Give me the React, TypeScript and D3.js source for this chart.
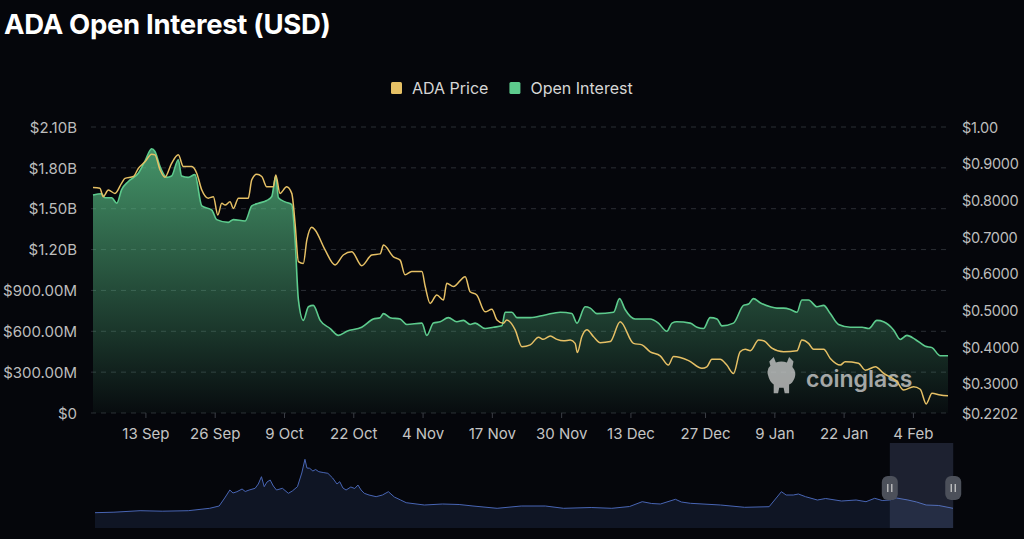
import { useEffect, useRef } from "react";
import * as d3 from "d3";

const WIDTH = 1024;
const HEIGHT = 539;
const PLOT = { left: 93, right: 948, top: 127, bottom: 413 };
const NAV = { left: 95, right: 953, top: 443, bottom: 528 };
const BG = "#05060b";
const FONT = "Inter, 'Noto Sans', sans-serif";
const PRICE_COLOR = "#e6c065";
const OI_COLOR = "#5dcb8d";

// Open interest, billions of USD
const OPEN_INTEREST: [string, number][] = [
  ["2025-09-03T04", 1.6], ["2025-09-04T19", 1.61], ["2025-09-05T10", 1.58], ["2025-09-06T16", 1.58],
  ["2025-09-07T15", 1.54], ["2025-09-08T13", 1.64], ["2025-09-09T19", 1.7], ["2025-09-11T16", 1.76],
  ["2025-09-12T22", 1.85], ["2025-09-14T04", 1.94], ["2025-09-14T19", 1.92], ["2025-09-15T18", 1.81],
  ["2025-09-17T00", 1.73], ["2025-09-17T22", 1.74], ["2025-09-19T04", 1.86], ["2025-09-19T19", 1.74],
  ["2025-09-21T01", 1.73], ["2025-09-22T07", 1.75], ["2025-09-23T14", 1.52], ["2025-09-25T11", 1.49],
  ["2025-09-26T09", 1.42], ["2025-09-28T13", 1.4], ["2025-09-29T12", 1.42], ["2025-10-01T17", 1.41],
  ["2025-10-02T23", 1.52], ["2025-10-04T05", 1.54], ["2025-10-05T18", 1.56], ["2025-10-06T17", 1.59],
  ["2025-10-07T11", 1.74], ["2025-10-07T23", 1.58], ["2025-10-09T05", 1.55], ["2025-10-10T11", 1.53],
  ["2025-10-11T02", 1.27], ["2025-10-11T17", 0.83], ["2025-10-12T15", 0.68], ["2025-10-13T14", 0.78],
  ["2025-10-14T12", 0.79], ["2025-10-15T19", 0.68], ["2025-10-17T16", 0.62], ["2025-10-19T05", 0.57],
  ["2025-10-20T19", 0.6], ["2025-10-23T14", 0.63], ["2025-10-25T18", 0.69], ["2025-10-27T01", 0.7],
  ["2025-10-27T16", 0.73], ["2025-10-28T22", 0.7], ["2025-10-30T19", 0.69], ["2025-11-01T01", 0.65],
  ["2025-11-03T21", 0.66], ["2025-11-04T19", 0.57], ["2025-11-06T01", 0.66], ["2025-11-07T07", 0.67],
  ["2025-11-08T20", 0.7], ["2025-11-10T10", 0.67], ["2025-11-11T16", 0.68], ["2025-11-12T22", 0.65],
  ["2025-11-13T21", 0.66], ["2025-11-15T18", 0.62], ["2025-11-17T07", 0.63], ["2025-11-18T21", 0.64],
  ["2025-11-19T12", 0.74], ["2025-11-20T18", 0.74], ["2025-11-21T17", 0.7], ["2025-11-24T05", 0.7],
  ["2025-11-27T00", 0.72], ["2025-11-29T20", 0.74], ["2025-12-02T00", 0.73], ["2025-12-02T23", 0.66],
  ["2025-12-04T12", 0.78], ["2025-12-05T11", 0.77], ["2025-12-06T17", 0.73], ["2025-12-09T20", 0.74],
  ["2025-12-10T23", 0.84], ["2025-12-12T00", 0.76], ["2025-12-13T21", 0.69], ["2025-12-16T17", 0.69],
  ["2025-12-18T06", 0.66], ["2025-12-19T20", 0.6], ["2025-12-20T19", 0.66], ["2025-12-21T17", 0.67],
  ["2025-12-24T05", 0.66], ["2025-12-25T12", 0.63], ["2025-12-26T17", 0.62], ["2025-12-27T23", 0.7],
  ["2025-12-29T06", 0.69], ["2025-12-30T04", 0.64], ["2026-01-01T08", 0.66], ["2026-01-03T05", 0.79],
  ["2026-01-04T04", 0.8], ["2026-01-05T02", 0.84], ["2026-01-06T08", 0.81], ["2026-01-08T06", 0.78],
  ["2026-01-09T12", 0.77], ["2026-01-10T18", 0.77], ["2026-01-12T00", 0.76], ["2026-01-13T06", 0.74],
  ["2026-01-14T04", 0.83], ["2026-01-15T10", 0.83], ["2026-01-17T00", 0.78], ["2026-01-18T06", 0.79],
  ["2026-01-19T12", 0.73], ["2026-01-21T01", 0.65], ["2026-01-23T06", 0.63], ["2026-01-25T11", 0.63],
  ["2026-01-26T17", 0.62], ["2026-01-28T06", 0.68], ["2026-01-29T12", 0.67], ["2026-01-31T09", 0.61],
  ["2026-02-01T15", 0.54], ["2026-02-02T21", 0.57], ["2026-02-04T11", 0.54], ["2026-02-06T08", 0.49],
  ["2026-02-07T14", 0.48], ["2026-02-09T03", 0.42], ["2026-02-10T14", 0.42],
];

// ADA price, USD
const ADA_PRICE: [string, number][] = [
  ["2025-09-03T04", 0.835], ["2025-09-04T11", 0.833], ["2025-09-05T02", 0.81], ["2025-09-06T01", 0.828],
  ["2025-09-07T07", 0.819], ["2025-09-08T13", 0.847], ["2025-09-09T04", 0.86], ["2025-09-10T18", 0.865],
  ["2025-09-11T16", 0.887], ["2025-09-12T22", 0.905], ["2025-09-14T04", 0.926], ["2025-09-14T19", 0.924],
  ["2025-09-15T18", 0.883], ["2025-09-16T16", 0.863], ["2025-09-17T22", 0.901], ["2025-09-19T04", 0.924],
  ["2025-09-20T03", 0.892], ["2025-09-21T17", 0.892], ["2025-09-22T15", 0.874], ["2025-09-23T14", 0.828],
  ["2025-09-24T19", 0.806], ["2025-09-25T18", 0.81], ["2025-09-26T14", 0.76], ["2025-09-27T08", 0.792],
  ["2025-09-27T23", 0.787], ["2025-09-28T21", 0.796], ["2025-09-29T12", 0.778], ["2025-09-30T11", 0.806],
  ["2025-10-02T07", 0.806], ["2025-10-02T23", 0.856], ["2025-10-03T21", 0.871], ["2025-10-04T20", 0.865],
  ["2025-10-05T18", 0.837], ["2025-10-07T00", 0.837], ["2025-10-07T11", 0.869], ["2025-10-08T06", 0.819],
  ["2025-10-09T12", 0.837], ["2025-10-10T11", 0.819], ["2025-10-11T02", 0.737], ["2025-10-11T17", 0.633],
  ["2025-10-12T15", 0.628], ["2025-10-13T07", 0.692], ["2025-10-14T05", 0.727], ["2025-10-14T20", 0.719],
  ["2025-10-16T17", 0.665], ["2025-10-18T14", 0.624], ["2025-10-20T03", 0.651], ["2025-10-21T17", 0.66],
  ["2025-10-23T14", 0.622], ["2025-10-25T11", 0.651], ["2025-10-27T01", 0.654], ["2025-10-27T16", 0.678],
  ["2025-10-29T13", 0.646], ["2025-10-30T19", 0.637], ["2025-10-31T17", 0.597], ["2025-11-01T23", 0.606],
  ["2025-11-03T21", 0.606], ["2025-11-04T12", 0.565], ["2025-11-05T10", 0.519], ["2025-11-06T16", 0.542],
  ["2025-11-07T22", 0.528], ["2025-11-08T13", 0.574], ["2025-11-09T19", 0.565], ["2025-11-12T00", 0.592],
  ["2025-11-12T22", 0.551], ["2025-11-14T04", 0.542], ["2025-11-15T18", 0.496], ["2025-11-17T00", 0.503],
  ["2025-11-17T23", 0.474], ["2025-11-19T04", 0.465], ["2025-11-19T19", 0.474], ["2025-11-21T09", 0.447],
  ["2025-11-22T15", 0.401], ["2025-11-24T05", 0.406], ["2025-11-25T18", 0.427], ["2025-11-26T16", 0.421],
  ["2025-11-27T23", 0.43], ["2025-11-29T05", 0.421], ["2025-11-30T11", 0.417], ["2025-12-01T17", 0.419],
  ["2025-12-02T15", 0.41], ["2025-12-03T01", 0.385], ["2025-12-03T21", 0.428], ["2025-12-04T20", 0.447],
  ["2025-12-06T02", 0.428], ["2025-12-07T08", 0.412], ["2025-12-09T05", 0.415], ["2025-12-11T02", 0.469],
  ["2025-12-13T14", 0.41], ["2025-12-15T04", 0.406], ["2025-12-16T17", 0.387], ["2025-12-18T14", 0.376],
  ["2025-12-20T03", 0.351], ["2025-12-21T02", 0.374], ["2025-12-23T22", 0.363], ["2025-12-26T10", 0.342],
  ["2025-12-27T08", 0.346], ["2025-12-28T07", 0.367], ["2025-12-29T20", 0.367], ["2025-12-31T02", 0.351],
  ["2026-01-01T08", 0.328], ["2026-01-02T14", 0.387], ["2026-01-03T13", 0.394], ["2026-01-04T12", 0.39],
  ["2026-01-06T01", 0.419], ["2026-01-07T00", 0.417], ["2026-01-08T13", 0.397], ["2026-01-10T18", 0.387],
  ["2026-01-13T06", 0.39], ["2026-01-14T04", 0.419], ["2026-01-15T10", 0.41], ["2026-01-16T09", 0.394],
  ["2026-01-18T06", 0.394], ["2026-01-19T12", 0.369], ["2026-01-21T09", 0.351], ["2026-01-22T07", 0.36],
  ["2026-01-24T19", 0.356], ["2026-01-26T02", 0.337], ["2026-01-27T23", 0.346], ["2026-01-29T12", 0.328],
  ["2026-02-01T00", 0.306], ["2026-02-02T06", 0.283], ["2026-02-04T03", 0.292], ["2026-02-05T09", 0.285],
  ["2026-02-06T12", 0.245], ["2026-02-07T14", 0.274], ["2026-02-09T03", 0.269], ["2026-02-10T14", 0.267],
];

// Navigator: full-history open interest (relative units)
const NAV_HISTORY: [string, number][] = [
  ["2020-03-03", 15.3], ["2020-04-20", 15.8], ["2020-06-25", 17.3], ["2020-08-20", 16.8], ["2020-10-25", 17.3],
  ["2020-12-18", 19.7], ["2021-01-11", 22], ["2021-01-25", 30], ["2021-02-07", 38], ["2021-02-15", 35],
  ["2021-02-25", 36.3], ["2021-03-10", 39], ["2021-03-18", 36.5], ["2021-03-28", 38], ["2021-04-12", 39.7],
  ["2021-04-20", 44], ["2021-04-28", 51.3], ["2021-05-05", 41.3], ["2021-05-12", 46], ["2021-05-20", 48],
  ["2021-05-28", 42], ["2021-06-05", 38], ["2021-06-20", 39.7], ["2021-07-05", 34.7], ["2021-07-15", 37],
  ["2021-07-28", 41.3], ["2021-08-08", 55], ["2021-08-16", 68.7], ["2021-08-21", 60], ["2021-08-28", 59.7],
  ["2021-09-05", 57], ["2021-09-12", 58.5], ["2021-09-20", 56.3], ["2021-10-01", 55.5], ["2021-10-13", 54.7],
  ["2021-10-25", 50], ["2021-11-05", 44], ["2021-11-12", 46.3], ["2021-11-20", 40], ["2021-11-28", 38],
  ["2021-12-10", 41], ["2021-12-20", 39.5], ["2021-12-28", 43], ["2022-01-05", 38], ["2022-01-13", 34.7],
  ["2022-01-25", 33], ["2022-02-12", 31.3], ["2022-02-28", 33], ["2022-03-15", 36.3], ["2022-03-30", 31],
  ["2022-04-15", 28], ["2022-04-29", 25.3], ["2022-06-14", 23], ["2022-07-30", 24], ["2022-09-10", 23.5],
  ["2022-10-15", 22], ["2022-12-15", 19.7], ["2023-02-14", 22], ["2023-04-16", 22], ["2023-06-01", 19.7],
  ["2023-08-10", 20.5], ["2023-10-01", 19.7], ["2023-11-15", 21.5], ["2023-12-17", 26.3], ["2024-01-10", 24.5],
  ["2024-02-01", 24], ["2024-03-10", 28.7], ["2024-03-25", 26], ["2024-04-17", 24.7], ["2024-07-02", 23],
  ["2024-09-01", 20.7], ["2024-11-02", 21.3], ["2024-11-20", 30], ["2024-12-03", 36.3], ["2024-12-15", 33],
  ["2025-01-02", 33], ["2025-01-15", 34], ["2025-02-02", 31.3], ["2025-03-04", 28], ["2025-03-25", 29.5],
  ["2025-05-04", 27], ["2025-06-10", 28], ["2025-07-05", 26.3], ["2025-07-27", 29.7], ["2025-08-15", 27.5],
  ["2025-09-03", 28], ["2025-09-20", 30], ["2025-10-19", 28], ["2025-11-10", 26], ["2025-12-04", 23],
  ["2026-01-05", 22.5], ["2026-02-10", 19.7],
];

const X_TICKS = [
  "2025-09-13", "2025-09-26", "2025-10-09", "2025-10-22", "2025-11-04", "2025-11-17",
  "2025-11-30", "2025-12-13", "2025-12-27", "2026-01-09", "2026-01-22", "2026-02-04",
];
const OI_TICKS = [0, 0.3, 0.6, 0.9, 1.2, 1.5, 1.8, 2.1];
const OI_TICK_LABELS = ["$0", "$300.00M", "$600.00M", "$900.00M", "$1.20B", "$1.50B", "$1.80B", "$2.10B"];
const PRICE_TICKS = [0.2202, 0.3, 0.4, 0.5, 0.6, 0.7, 0.8, 0.9, 1.0];
const PRICE_TICK_LABELS = ["$0.2202", "$0.3000", "$0.4000", "$0.5000", "$0.6000", "$0.7000", "$0.8000", "$0.9000", "$1.00"];
const LEGEND = [
  { label: "ADA Price", color: PRICE_COLOR },
  { label: "Open Interest", color: OI_COLOR },
];

const parseHour = d3.timeParse("%Y-%m-%dT%H");
const parseDay = d3.timeParse("%Y-%m-%d");

export default function App() {
  const svgRef = useRef<SVGSVGElement>(null);

  useEffect(() => {
    if (!svgRef.current) return;
    const svg = d3.select(svgRef.current);
    svg.selectAll("*").remove();

    const oi = OPEN_INTEREST.map(([d, v]) => ({ date: parseHour(d) as Date, v }));
    const price = ADA_PRICE.map(([d, v]) => ({ date: parseHour(d) as Date, v }));
    const nav = NAV_HISTORY.map(([d, v]) => ({ date: parseDay(d) as Date, v }));

    const x = d3
      .scaleTime()
      .domain([oi[0].date, oi[oi.length - 1].date])
      .range([PLOT.left, PLOT.right]);
    const yOi = d3.scaleLinear().domain([0, 2.1]).range([PLOT.bottom, PLOT.top]);
    const yPrice = d3.scaleLinear().domain([0.2202, 1.0]).range([PLOT.bottom, PLOT.top]);

    // title
    svg.append("text")
      .attr("x", 4).attr("y", 34)
      .attr("fill", "#ffffff")
      .attr("font-family", FONT)
      .attr("font-weight", 700)
      .attr("font-size", 27.5)
      .attr("letter-spacing", -0.3)
      .text("ADA Open Interest (USD)");

    // legend
    const lg = svg.append("g").attr("font-family", FONT).attr("font-size", 16);
    let lx = 391;
    LEGEND.forEach((item) => {
      lg.append("rect")
        .attr("x", lx).attr("y", 82).attr("width", 11).attr("height", 12)
        .attr("rx", 1.5).attr("fill", item.color);
      const t = lg.append("text")
        .attr("x", lx + 21).attr("y", 93.5)
        .attr("fill", "#d6d6d6")
        .text(item.label);
      lx += 21 + (t.node() as SVGTextElement).getComputedTextLength() + 21;
    });

    // grid
    svg.append("g")
      .selectAll("line")
      .data(OI_TICKS)
      .join("line")
      .attr("x1", PLOT.left - 2).attr("x2", PLOT.right)
      .attr("y1", (d) => yOi(d)).attr("y2", (d) => yOi(d))
      .attr("stroke", "#2b2e35")
      .attr("stroke-dasharray", "5,5");

    // left axis
    svg.append("g")
      .attr("transform", `translate(${PLOT.left - 13},0)`)
      .call(
        d3.axisLeft(yOi).tickValues(OI_TICKS).tickSize(0)
          .tickFormat((_, i) => OI_TICK_LABELS[i])
      )
      .call((a) => a.select(".domain").remove())
      .selectAll("text")
      .attr("dy", "0.35em")
      .style("fill", "#bdbdbd")
      .style("font-family", FONT)
      .style("font-size", "15px");

    // right axis
    svg.append("g")
      .attr("transform", `translate(${PLOT.right + 14},0)`)
      .call(
        d3.axisRight(yPrice).tickValues(PRICE_TICKS).tickSize(0).tickPadding(0)
          .tickFormat((_, i) => PRICE_TICK_LABELS[i])
      )
      .call((a) => a.select(".domain").remove())
      .selectAll("text")
      .attr("dy", "0.35em")
      .style("fill", "#bdbdbd")
      .style("font-family", FONT)
      .style("font-size", "14.5px")
      .style("letter-spacing", "-0.3px");

    // bottom axis
    svg.append("g")
      .attr("transform", `translate(0,${PLOT.bottom})`)
      .call(
        d3.axisBottom(x)
          .tickValues(X_TICKS.map((d) => parseDay(d) as Date))
          .tickSize(5).tickPadding(10)
          .tickFormat((d) => d3.timeFormat("%-d %b")(d as Date))
      )
      .call((a) => a.select(".domain").remove())
      .call((a) => a.selectAll("line").attr("stroke", "#3a3d44"))
      .selectAll("text")
      .style("fill", "#c4c4c4")
      .style("font-family", FONT)
      .style("font-size", "15px");

    // area gradient
    const defs = svg.append("defs");
    const topY = yOi(d3.max(oi, (d) => d.v) as number);
    const grad = defs.append("linearGradient")
      .attr("id", "oiFill")
      .attr("gradientUnits", "userSpaceOnUse")
      .attr("x1", 0).attr("x2", 0)
      .attr("y1", topY).attr("y2", PLOT.bottom);
    grad.append("stop").attr("offset", "0%").attr("stop-color", OI_COLOR).attr("stop-opacity", 0.72);
    grad.append("stop").attr("offset", "100%").attr("stop-color", OI_COLOR).attr("stop-opacity", 0.03);

    svg.append("path")
      .datum(oi)
      .attr("fill", "url(#oiFill)")
      .attr(
        "d",
        d3.area<{ date: Date; v: number }>()
          .x((d) => x(d.date))
          .y0(PLOT.bottom)
          .y1((d) => yOi(d.v))
          .curve(d3.curveMonotoneX)
      );

    // watermark
    const wm = svg.append("g").attr("opacity", 0.78);
    wm.append("path")
      .attr("transform", "translate(766,357) scale(1.1)")
      .attr("fill", "#c9c9c9")
      .attr(
        "d",
        "M3,4 L7,0 L9,5 Q14,3 19,5 L21,0 L25,4 L24,9 Q28,13 26,19 Q24,24 21,25 L21,33 L17,33 L16,28 L12,28 L11,33 L7,33 L7,25 Q3,22 2,17 Q0,11 4,8 Z"
      );
    wm.append("text")
      .attr("x", 806).attr("y", 387)
      .attr("fill", "#cfcfcf")
      .attr("font-family", FONT)
      .attr("font-weight", 600)
      .attr("font-size", 23)
      .text("coinglass");

    svg.append("path")
      .datum(oi)
      .attr("fill", "none")
      .attr("stroke", OI_COLOR)
      .attr("stroke-width", 1.6)
      .attr(
        "d",
        d3.line<{ date: Date; v: number }>()
          .x((d) => x(d.date))
          .y((d) => yOi(d.v))
          .curve(d3.curveMonotoneX)
      );

    svg.append("path")
      .datum(price)
      .attr("fill", "none")
      .attr("stroke", PRICE_COLOR)
      .attr("stroke-width", 1.5)
      .attr(
        "d",
        d3.line<{ date: Date; v: number }>()
          .x((d) => x(d.date))
          .y((d) => yPrice(d.v))
          .curve(d3.curveMonotoneX)
      );

    // navigator
    const xNav = d3
      .scaleTime()
      .domain([nav[0].date, nav[nav.length - 1].date])
      .range([NAV.left, NAV.right]);
    const yNav = d3.scaleLinear().domain([0, 85]).range([NAV.bottom, NAV.top]);

    svg.append("path")
      .datum(nav)
      .attr("fill", "#0f1524")
      .attr(
        "d",
        d3.area<{ date: Date; v: number }>()
          .x((d) => xNav(d.date))
          .y0(NAV.bottom)
          .y1((d) => yNav(d.v))
      );
    svg.append("path")
      .datum(nav)
      .attr("fill", "none")
      .attr("stroke", "#4865b4")
      .attr("stroke-width", 1)
      .attr(
        "d",
        d3.line<{ date: Date; v: number }>()
          .x((d) => xNav(d.date))
          .y((d) => yNav(d.v))
      );

    const selStart = xNav(oi[0].date);
    const selEnd = xNav(oi[oi.length - 1].date);
    svg.append("rect")
      .attr("x", selStart).attr("y", NAV.top)
      .attr("width", selEnd - selStart).attr("height", NAV.bottom - NAV.top)
      .attr("fill", "#7d8fc8").attr("fill-opacity", 0.2);

    [selStart, selEnd].forEach((hx) => {
      const h = svg.append("g").attr("transform", `translate(${hx},488)`);
      h.append("rect")
        .attr("x", -8).attr("y", -12).attr("width", 16).attr("height", 24)
        .attr("rx", 6).attr("fill", "#4c505a");
      [-2, 2].forEach((dx) =>
        h.append("line")
          .attr("x1", dx).attr("x2", dx).attr("y1", -4).attr("y2", 4)
          .attr("stroke", "#d0d0d0").attr("stroke-width", 1.2)
      );
    });
  }, []);

  return (
    <div style={{ position: "fixed", inset: 0, background: BG }}>
      <svg ref={svgRef} width={WIDTH} height={HEIGHT} style={{ display: "block" }} />
    </div>
  );
}
